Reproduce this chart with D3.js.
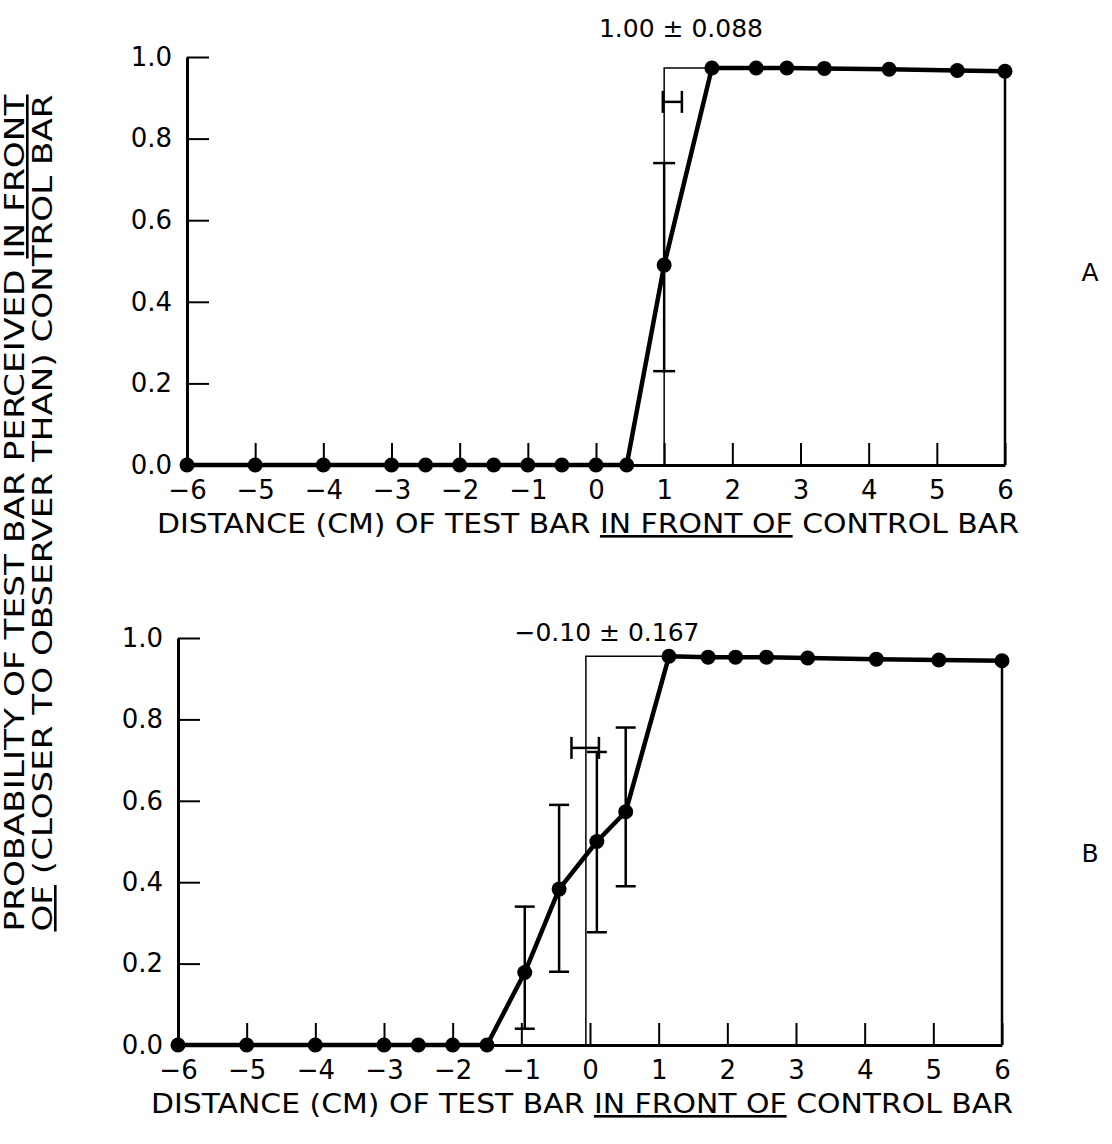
<!DOCTYPE html>
<html>
<head>
<meta charset="utf-8">
<script src="https://cdn.jsdelivr.net/npm/d3@7"></script>
<style>
  body { margin: 0; background: #fff; }
  text { font-family: "DejaVu Sans", sans-serif; fill: #000; }
</style>
</head>
<body>
<div id="chart"></div>
<script>
var svgWidth = 1112;
var svgHeight = 1144;

// shared axis values
var xTicks = [-6, -5, -4, -3, -2, -1, 0, 1, 2, 3, 4, 5, 6];
var yTicks = [0, 0.2, 0.4, 0.6, 0.8, 1.0];
var xTitle = ["DISTANCE (CM) OF TEST BAR ", "IN FRONT OF", " CONTROL BAR"];
var yTitle1 = ["PROBABILITY OF TEST BAR PERCEIVED ", "IN FRONT"];
var yTitle2 = ["OF", " (CLOSER TO OBSERVER THAN) CONTROL BAR"];

// panel A
var aX = [-6, -5, -4, -3, -2.5, -2, -1.5, -1, -0.5, 0, 0.45, 1.0, 1.7, 2.35, 2.8, 3.35, 4.3, 5.3, 6.0];
var aY = [0, 0, 0, 0, 0, 0, 0, 0, 0, 0, 0, 0.49, 0.973, 0.973, 0.973, 0.972, 0.970, 0.967, 0.965];
var aErrX = [1.0];
var aErrLo = [0.23];
var aErrHi = [0.74];
var aThreshold = 1.0;
var aThreshBar = [0.98, 1.26, 0.89]; // low, high, level
var aNote = "1.00 \u00B1 0.088";

// panel B
var bX = [-6, -5, -4, -3, -2.5, -2, -1.5, -0.95, -0.45, 0.1, 0.52, 1.15, 1.72, 2.12, 2.57, 3.17, 4.17, 5.08, 6.0];
var bY = [0, 0, 0, 0, 0, 0, 0, 0.178, 0.383, 0.50, 0.573, 0.955, 0.953, 0.953, 0.953, 0.951, 0.948, 0.946, 0.944];
var bErrX = [-0.95, -0.45, 0.1, 0.52];
var bErrLo = [0.04, 0.18, 0.277, 0.39];
var bErrHi = [0.34, 0.59, 0.72, 0.78];
var bThreshold = -0.06;
var bThreshBar = [-0.27, 0.13, 0.73];
var bNote = "\u22120.10 \u00B1 0.167";

var svg = d3.select("#chart")
  .append("svg")
  .attr("width", svgWidth)
  .attr("height", svgHeight);

function fmtX(d) {
  return d < 0 ? "\u2212" + Math.abs(d) : String(d);
}

function drawPanel(p) {
  var x = d3.scaleLinear().domain([-6, 6]).range([p.left, p.right]);
  var y = d3.scaleLinear().domain([0, 1]).range([p.bottom, p.top]);
  var g = svg.append("g");

  // y axis, ticks point into the plot
  var leftAxis = d3.axisLeft(y)
    .tickValues(yTicks)
    .tickFormat(d3.format(".1f"))
    .tickSizeInner(-22)
    .tickSizeOuter(0)
    .tickPadding(15);
  var yAxisG = g.append("g")
    .attr("transform", `translate(${p.left}, 0)`)
    .call(leftAxis);

  // x axis, ticks point up
  var bottomAxis = d3.axisBottom(x)
    .tickValues(xTicks)
    .tickFormat(fmtX)
    .tickSizeInner(-22)
    .tickSizeOuter(0)
    .tickPadding(16);
  var xAxisG = g.append("g")
    .attr("transform", `translate(0, ${p.bottom})`)
    .call(bottomAxis);

  [yAxisG, xAxisG].forEach(function(a) {
    a.select(".domain").attr("stroke", "#000").attr("stroke-width", 3);
    a.selectAll(".tick line").attr("stroke", "#000").attr("stroke-width", 2);
    a.selectAll(".tick text")
      .attr("fill", "#000")
      .style("font-family", "'DejaVu Sans', sans-serif")
      .style("font-size", "26px");
  });

  // x axis title
  var t = g.append("text")
    .attr("x", (p.left + p.right) / 2 - 8)
    .attr("y", p.bottom + 68)
    .attr("text-anchor", "middle")
    .attr("textLength", 862)
    .attr("lengthAdjust", "spacingAndGlyphs")
    .style("font-size", "26px");
  xTitle.forEach(function(s, i) {
    t.append("tspan").text(s).style("text-decoration", i === 1 ? "underline" : "none");
  });

  // right closing line down from the last point
  var last = p.xs.length - 1;
  g.append("line")
    .attr("x1", x(p.xs[last])).attr("x2", x(p.xs[last]))
    .attr("y1", y(p.ys[last])).attr("y2", y(0))
    .attr("stroke", "#000").attr("stroke-width", 2.5);

  // threshold bracket: vertical at the 50% point, across to the first top point
  var firstTop = p.ys.findIndex(function(v) { return v > 0.9; });
  g.append("path")
    .attr("d", d3.line()([
      [x(p.threshold), y(0)],
      [x(p.threshold), y(p.ys[firstTop])],
      [x(p.xs[firstTop]), y(p.ys[firstTop])]
    ]))
    .attr("fill", "none")
    .attr("stroke", "#000")
    .attr("stroke-width", 1.5);

  // horizontal error bar on the threshold
  var tb = p.threshBar;
  g.append("line")
    .attr("x1", x(tb[0])).attr("x2", x(tb[1]))
    .attr("y1", y(tb[2])).attr("y2", y(tb[2]))
    .attr("stroke", "#000").attr("stroke-width", 2.5);
  [tb[0], tb[1]].forEach(function(v) {
    g.append("line")
      .attr("x1", x(v)).attr("x2", x(v))
      .attr("y1", y(tb[2]) - 11).attr("y2", y(tb[2]) + 11)
      .attr("stroke", "#000").attr("stroke-width", 2.5);
  });

  // vertical error bars
  p.errX.forEach(function(ex, i) {
    var cx = x(ex);
    g.append("line")
      .attr("x1", cx).attr("x2", cx)
      .attr("y1", y(p.errLo[i])).attr("y2", y(p.errHi[i]))
      .attr("stroke", "#000").attr("stroke-width", 2.5);
    [p.errLo[i], p.errHi[i]].forEach(function(v) {
      g.append("line")
        .attr("x1", cx - p.cap).attr("x2", cx + p.cap)
        .attr("y1", y(v)).attr("y2", y(v))
        .attr("stroke", "#000").attr("stroke-width", 2.5);
    });
  });

  // data line and dots
  var pts = p.xs.map(function(v, i) { return [v, p.ys[i]]; });
  g.append("path")
    .datum(pts)
    .attr("d", d3.line().x(d => x(d[0])).y(d => y(d[1])))
    .attr("fill", "none")
    .attr("stroke", "#000")
    .attr("stroke-width", 4.5)
    .attr("stroke-linejoin", "round");

  g.selectAll("circle")
    .data(pts)
    .enter()
    .append("circle")
    .attr("cx", d => x(d[0]))
    .attr("cy", d => y(d[1]))
    .attr("r", 7.5)
    .attr("fill", "#000");

  // annotation above the plot
  g.append("text")
    .attr("x", p.noteX)
    .attr("y", p.noteY)
    .attr("text-anchor", "middle")
    .style("font-size", "25px")
    .text(p.note);

  // panel letter
  g.append("text")
    .attr("x", 1090)
    .attr("y", (p.top + p.bottom) / 2 + 20)
    .attr("text-anchor", "middle")
    .style("font-size", "25px")
    .text(p.letter);
}

drawPanel({
  left: 187, right: 1005, top: 57, bottom: 465,
  xs: aX, ys: aY, errX: aErrX, errLo: aErrLo, errHi: aErrHi,
  threshold: aThreshold, threshBar: aThreshBar, cap: 11,
  note: aNote, noteX: 681, noteY: 37, letter: "A"
});

drawPanel({
  left: 178, right: 1002, top: 638, bottom: 1045,
  xs: bX, ys: bY, errX: bErrX, errLo: bErrLo, errHi: bErrHi,
  threshold: bThreshold, threshBar: bThreshBar, cap: 10,
  note: bNote, noteX: 607, noteY: 641, letter: "B"
});

// shared y axis title, two rotated lines
[[yTitle1, 24], [yTitle2, 52]].forEach(function(row, r) {
  var t = svg.append("text")
    .attr("transform", `translate(${row[1]}, 513) rotate(-90)`)
    .attr("text-anchor", "middle")
    .attr("textLength", 837)
    .attr("lengthAdjust", "spacingAndGlyphs")
    .style("font-family", "'DejaVu Sans Condensed', 'DejaVu Sans', sans-serif")
    .style("font-size", "26px");
  row[0].forEach(function(s, i) {
    var under = (r === 0 && i === 1) || (r === 1 && i === 0);
    t.append("tspan").text(s).style("text-decoration", under ? "underline" : "none");
  });
});
</script>
</body>
</html>
